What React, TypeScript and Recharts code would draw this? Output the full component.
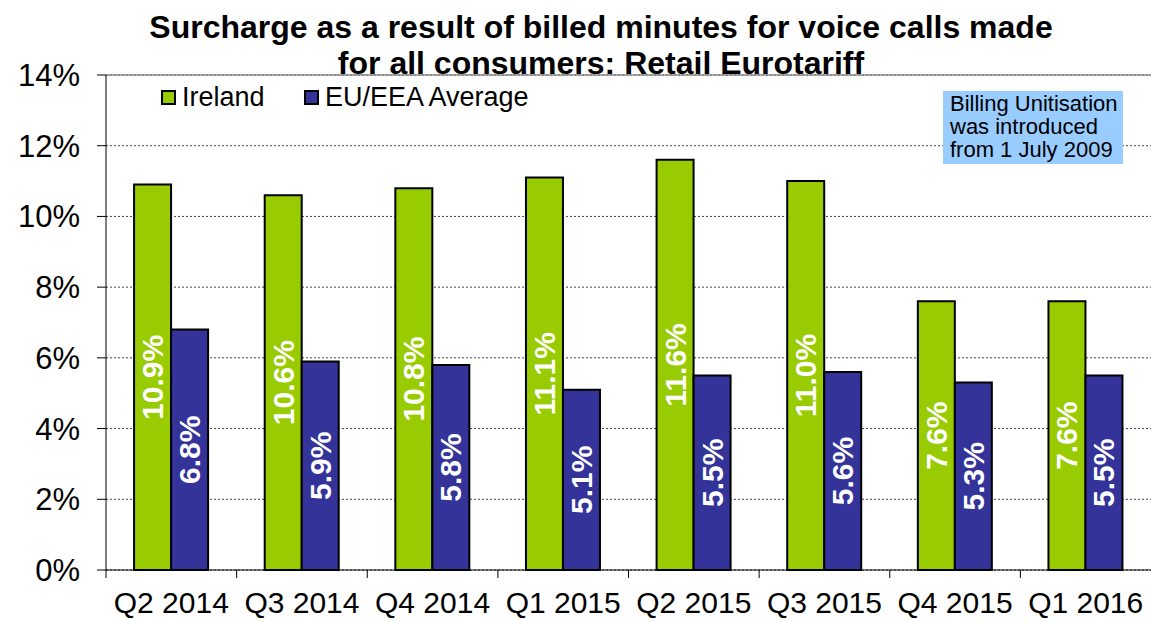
import { BarChart, Bar, XAxis, YAxis, CartesianGrid, LabelList, ReferenceLine } from 'recharts';

const quarters = ['Q2 2014', 'Q3 2014', 'Q4 2014', 'Q1 2015', 'Q2 2015', 'Q3 2015', 'Q4 2015', 'Q1 2016'];
const ireland = [10.9, 10.6, 10.8, 11.1, 11.6, 11.0, 7.6, 7.6];
const euAverage = [6.8, 5.9, 5.8, 5.1, 5.5, 5.6, 5.3, 5.5];
const yTicks = [0, 2, 4, 6, 8, 10, 12, 14];

const GREEN = '#99CC00';
const BLUE = '#333399';
const FONT = '"Liberation Sans", Arial, sans-serif';

const W = 1151;
const H = 621;
const PLOT_LEFT = 106;
const BAND = (W - PLOT_LEFT) / quarters.length;

const chartData = quarters.map((q, i) => ({ quarter: q, ireland: ireland[i], eu: euAverage[i] }));

function XTick({ x, y, payload }: any) {
  const left = x - BAND / 2;
  return (
    <g>
      <line x1={left} y1={y - 8} x2={left} y2={y} stroke="#000" strokeWidth={1} />
      <text x={x} y={y + 35} textAnchor="middle" fontSize={30} fontFamily={FONT} fill="#000">
        {payload.value}
      </text>
    </g>
  );
}

function VerticalLabel({ x, y, width, height, value }: any) {
  const cx = x + width / 2;
  const cy = y + height / 2;
  return (
    <text
      x={cx}
      y={cy}
      transform={`rotate(-90 ${cx} ${cy})`}
      textAnchor="middle"
      dominantBaseline="central"
      fill="#fff"
      fontWeight="bold"
      fontSize={30}
      fontFamily={FONT}
    >
      {value.toFixed(1)}%
    </text>
  );
}

const legendItems = [
  { label: 'Ireland', color: GREEN, left: 161 },
  { label: 'EU/EEA Average', color: BLUE, left: 304 },
];

export default function App() {
  return (
    <div style={{ position: 'absolute', left: 0, top: 0, width: W, height: H, background: '#fff', overflow: 'hidden' }}>
      <BarChart
        width={W}
        height={H}
        data={chartData}
        margin={{ top: 75, right: 0, left: 0, bottom: 0 }}
        barCategoryGap="21.5%"
        barGap={0}
      >
        <CartesianGrid vertical={false} stroke="#444" strokeDasharray="2 2" />
        <ReferenceLine y={14} stroke="#888" strokeWidth={1.5} />
        <XAxis
          dataKey="quarter"
          height={51}
          tick={<XTick />}
          tickLine={false}
          axisLine={{ stroke: '#000', strokeWidth: 1 }}
          interval={0}
        />
        <YAxis
          width={PLOT_LEFT}
          domain={[0, 14]}
          ticks={yTicks}
          tickFormatter={(v: number) => `${v}%`}
          tickSize={9}
          tickMargin={17}
          tickLine={{ stroke: '#000' }}
          axisLine={{ stroke: '#000', strokeWidth: 1 }}
          tick={{ fontSize: 31, fill: '#000', fontFamily: FONT }}
          interval={0}
        />
        <Bar dataKey="ireland" name="Ireland" fill={GREEN} stroke="#000" strokeWidth={2} isAnimationActive={false}>
          <LabelList dataKey="ireland" content={<VerticalLabel />} />
        </Bar>
        <Bar dataKey="eu" name="EU/EEA Average" fill={BLUE} stroke="#000" strokeWidth={2} isAnimationActive={false}>
          <LabelList dataKey="eu" content={<VerticalLabel />} />
        </Bar>
      </BarChart>
      {legendItems.map((it) => (
        <div
          key={it.label}
          style={{
            position: 'absolute',
            left: it.left,
            top: 81,
            display: 'flex',
            alignItems: 'center',
            fontFamily: FONT,
            fontSize: 27,
            lineHeight: '32px',
            color: '#000',
          }}
        >
          <span
            style={{
              display: 'inline-block',
              width: 11,
              height: 11,
              background: it.color,
              border: '2px solid #000',
              marginRight: 6,
            }}
          />
          {it.label}
        </div>
      ))}
      <div
        style={{
          position: 'absolute',
          top: 9,
          left: 0,
          width: 1202,
          textAlign: 'center',
          fontFamily: FONT,
          fontWeight: 'bold',
          fontSize: 32,
          lineHeight: '36px',
          color: '#000',
          pointerEvents: 'none',
        }}
      >
        Surcharge as a result of billed minutes for voice calls made
        <br />
        for all consumers: Retail Eurotariff
      </div>
      <div
        style={{
          position: 'absolute',
          left: 943,
          top: 91,
          width: 173,
          height: 72,
          padding: '1px 0 0 7px',
          background: '#99CCFF',
          fontFamily: FONT,
          fontSize: 22,
          lineHeight: '23px',
          color: '#000',
          whiteSpace: 'nowrap',
        }}
      >
        Billing Unitisation
        <br />
        was introduced
        <br />
        from 1 July 2009
      </div>
    </div>
  );
}
